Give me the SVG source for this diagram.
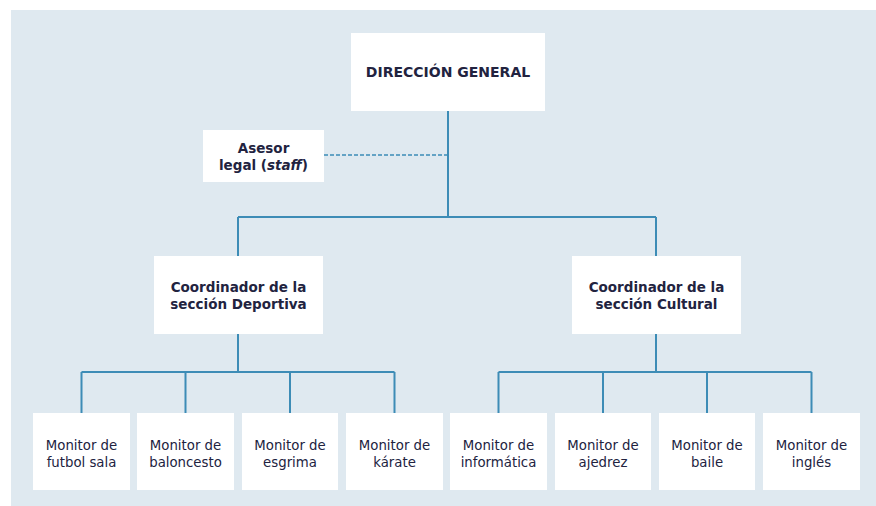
<svg xmlns="http://www.w3.org/2000/svg" width="876" height="506" viewBox="0 0 876 506">
<style>
.box{fill:#ffffff}
.t{font-family:"DejaVu Sans","Liberation Sans",sans-serif;fill:#22233f;text-anchor:middle}
.b{font-weight:bold;font-size:13.5px}
.h{font-weight:bold;font-size:14px}
.m{font-size:13.3px}
.ln{stroke:#3d8cb6;stroke-width:2;fill:none}
.dash{stroke:#3d8cb6;stroke-width:1.6;fill:none;stroke-dasharray:4 2}
</style>
<rect width="876" height="506" fill="#ffffff"/>
<rect x="11" y="10" width="865" height="496" fill="#dfe9f0"/>
<g id="connectors">
<path class="ln" d="M448 111V217M238 217H656M238 217V256M656 217V256"/>
<path class="dash" d="M324 155H448"/>
<path class="ln" d="M238 334V372M81.5 372H394.5M81.5 372V413M185.5 372V413M290 372V413M394.5 372V413"/>
<path class="ln" d="M656 334V372M498.5 372H811.5M498.5 372V413M603 372V413M707 372V413M811.5 372V413"/>
</g>
<g id="direccion"><rect class="box" x="351" y="33" width="194" height="78"/><text class="t h" x="448" y="77">DIRECCIÓN GENERAL</text></g>
<g id="asesor"><rect class="box" x="203" y="130" width="121" height="52"/><text class="t b" x="263.5" y="153">Asesor</text><text class="t b" x="263.5" y="170">legal (<tspan font-style="italic">staff</tspan>)</text></g>
<g id="coord-deportiva"><rect class="box" x="154" y="256" width="169" height="78"/><text class="t b" x="238.5" y="292">Coordinador de la</text><text class="t b" x="238.5" y="309">sección Deportiva</text></g>
<g id="coord-cultural"><rect class="box" x="572" y="256" width="169" height="78"/><text class="t b" x="656.5" y="292">Coordinador de la</text><text class="t b" x="656.5" y="309">sección Cultural</text></g>
<g id="m1"><rect class="box" x="33" y="413" width="97" height="77"/><text class="t m" x="81.5" y="450">Monitor de</text><text class="t m" x="81.5" y="467">futbol sala</text></g>
<g id="m2"><rect class="box" x="137" y="413" width="97" height="77"/><text class="t m" x="185.5" y="450">Monitor de</text><text class="t m" x="185.5" y="467">baloncesto</text></g>
<g id="m3"><rect class="box" x="242" y="413" width="96" height="77"/><text class="t m" x="290" y="450">Monitor de</text><text class="t m" x="290" y="467">esgrima</text></g>
<g id="m4"><rect class="box" x="346" y="413" width="97" height="77"/><text class="t m" x="394.5" y="450">Monitor de</text><text class="t m" x="394.5" y="467">kárate</text></g>
<g id="m5"><rect class="box" x="450" y="413" width="97" height="77"/><text class="t m" x="498.5" y="450">Monitor de</text><text class="t m" x="498.5" y="467">informática</text></g>
<g id="m6"><rect class="box" x="555" y="413" width="96" height="77"/><text class="t m" x="603" y="450">Monitor de</text><text class="t m" x="603" y="467">ajedrez</text></g>
<g id="m7"><rect class="box" x="659" y="413" width="96" height="77"/><text class="t m" x="707" y="450">Monitor de</text><text class="t m" x="707" y="467">baile</text></g>
<g id="m8"><rect class="box" x="763" y="413" width="97" height="77"/><text class="t m" x="811.5" y="450">Monitor de</text><text class="t m" x="811.5" y="467">inglés</text></g>
</svg>
